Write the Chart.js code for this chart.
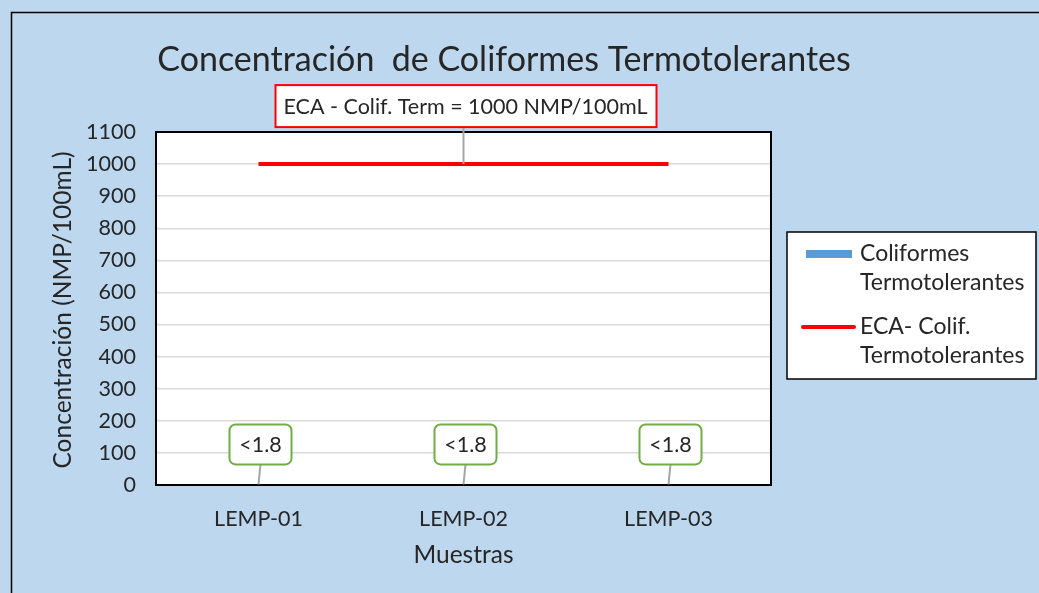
<!DOCTYPE html>
<html>
<head>
<meta charset="utf-8">
<script src="https://cdn.jsdelivr.net/npm/chart.js@4"></script>
<style>
  html, body { margin: 0; padding: 0; background: #BDD7EE; }
  #wrap { width: 1039px; height: 593px; }
</style>
</head>
<body>
<div id="wrap"><canvas id="chart" width="1039" height="593"></canvas></div>
<script>
// data
const muestras = ['LEMP-01', 'LEMP-02', 'LEMP-03'];
const coliformes = [1.8, 1.8, 1.8];
const etiquetas = ['<1.8', '<1.8', '<1.8'];
const eca = [1000, 1000, 1000];
const ecaTexto = 'ECA - Colif. Term = 1000 NMP/100mL';

const FONT = 'Lato, "Open Sans", sans-serif';
const TXT = '#262626';

function roundRect(ctx, x, y, w, h, r) {
    ctx.beginPath();
    ctx.moveTo(x + r, y);
    ctx.arcTo(x + w, y, x + w, y + h, r);
    ctx.arcTo(x + w, y + h, x, y + h, r);
    ctx.arcTo(x, y + h, x, y, r);
    ctx.arcTo(x, y, x + w, y, r);
    ctx.closePath();
}

const decor = {
    id: 'decor',
    beforeDraw(chart) {
        const ctx = chart.ctx;
        const a = chart.chartArea;
        ctx.save();
        ctx.fillStyle = '#BDD7EE';
        ctx.fillRect(0, 0, chart.width, chart.height);
        // outer frame
        ctx.strokeStyle = '#000';
        ctx.lineWidth = 1.5;
        ctx.strokeRect(11.5, 12.5, 1100, 700);
        // plot background
        ctx.fillStyle = '#fff';
        ctx.fillRect(a.left, a.top, a.right - a.left, a.bottom - a.top);
        // title
        ctx.fillStyle = TXT;
        ctx.font = '34px ' + FONT;
        ctx.textAlign = 'center';
        ctx.textBaseline = 'middle';
        ctx.fillText('Concentración  de Coliformes Termotolerantes', 504, 60);
        // axis titles
        ctx.font = '24.5px ' + FONT;
        ctx.fillText('Muestras', (a.left + a.right) / 2, 555);
        ctx.translate(63, 310);
        ctx.rotate(-Math.PI / 2);
        ctx.fillText('Concentración (NMP/100mL)', 0, 0);
        ctx.restore();
    },
    afterDraw(chart) {
        const ctx = chart.ctx;
        const a = chart.chartArea;
        ctx.save();
        // plot border
        ctx.strokeStyle = '#000';
        ctx.lineWidth = 2;
        ctx.strokeRect(a.left, a.top, a.right - a.left, a.bottom - a.top);

        // bar labels
        const bars = chart.getDatasetMeta(0).data;
        ctx.font = '21.5px ' + FONT;
        ctx.textAlign = 'center';
        ctx.textBaseline = 'middle';
        bars.forEach((b, i) => {
            const cx = b.x + 2;
            const cy = b.y - 40;
            ctx.strokeStyle = '#A6A6A6';
            ctx.lineWidth = 2;
            ctx.beginPath();
            ctx.moveTo(cx, cy + 20);
            ctx.lineTo(b.x, b.y);
            ctx.stroke();
            roundRect(ctx, cx - 31, cy - 20, 62, 40, 6);
            ctx.fillStyle = '#fff';
            ctx.fill();
            ctx.strokeStyle = '#70AD47';
            ctx.lineWidth = 2;
            ctx.stroke();
            ctx.fillStyle = TXT;
            ctx.fillText(etiquetas[i], cx, cy + 1);
        });

        // ECA annotation
        const p = chart.getDatasetMeta(1).data[1];
        const bx = p.x, by = p.y - 58;
        ctx.strokeStyle = '#A6A6A6';
        ctx.lineWidth = 2;
        ctx.beginPath();
        ctx.moveTo(bx, by + 21);
        ctx.lineTo(p.x, p.y);
        ctx.stroke();
        ctx.fillStyle = '#fff';
        ctx.fillRect(bx - 188, by - 21, 381, 42);
        ctx.strokeStyle = '#FF0000';
        ctx.lineWidth = 2;
        ctx.strokeRect(bx - 188, by - 21, 381, 42);
        ctx.fillStyle = TXT;
        ctx.font = '21.5px ' + FONT;
        ctx.fillText(ecaTexto, bx + 2, by + 1);

        // legend
        ctx.fillStyle = '#fff';
        ctx.fillRect(787, 232, 249, 147);
        ctx.strokeStyle = '#000';
        ctx.lineWidth = 1.5;
        ctx.strokeRect(787, 232, 249, 147);
        ctx.fillStyle = '#5B9BD5';
        ctx.fillRect(806, 250, 46, 8);
        ctx.strokeStyle = '#FF0000';
        ctx.lineWidth = 4;
        ctx.lineCap = 'round';
        ctx.beginPath();
        ctx.moveTo(803, 327);
        ctx.lineTo(854, 327);
        ctx.stroke();
        ctx.fillStyle = TXT;
        ctx.textAlign = 'left';
        ctx.font = '23px ' + FONT;
        ctx.fillText('Coliformes', 860, 254);
        ctx.fillText('Termotolerantes', 860, 283);
        ctx.fillText('ECA- Colif.', 860, 327);
        ctx.fillText('Termotolerantes', 860, 356);
        ctx.restore();
    }
};

new Chart(document.getElementById('chart'), {
    data: {
        labels: muestras,
        datasets: [{
            type: 'bar',
            label: 'Coliformes Termotolerantes',
            data: coliformes,
            backgroundColor: '#5B9BD5',
            barPercentage: 0.6,
            order: 2
        }, {
            type: 'line',
            label: 'ECA- Colif. Termotolerantes',
            data: eca,
            borderColor: '#FF0000',
            borderWidth: 4,
            pointRadius: 0,
            order: 1
        }]
    },
    options: {
        responsive: false,
        animation: false,
        layout: { padding: { left: 0, top: 132, right: 268, bottom: 0 } },
        plugins: {
            legend: { display: false },
            tooltip: { enabled: false }
        },
        scales: {
            x: {
                grid: { display: false },
                border: { display: false },
                ticks: { font: { size: 21.5, family: FONT }, color: TXT, padding: 13 },
                afterFit(s) { s.height = 108; }
            },
            y: {
                min: 0,
                max: 1100,
                ticks: {
                    stepSize: 100,
                    font: { size: 21.5, family: FONT },
                    color: TXT,
                    padding: 20,
                    callback: v => String(v)
                },
                grid: { color: '#D9D9D9', lineWidth: 1.5, drawTicks: false },
                border: { display: false },
                afterFit(s) { s.width = 156; }
            }
        }
    },
    plugins: [decor]
});
</script>
</body>
</html>
